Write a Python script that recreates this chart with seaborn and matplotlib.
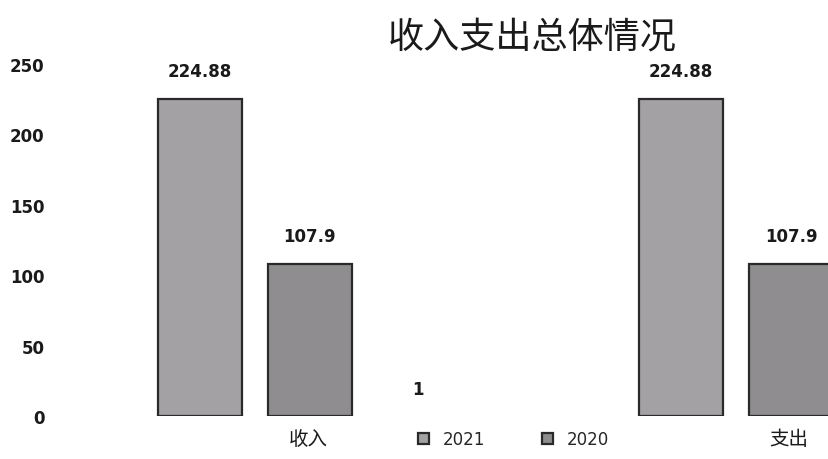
import matplotlib
matplotlib.use("Agg")
import matplotlib.pyplot as plt
import seaborn as sns
import pandas as pd

categories = ["收入", "支出"]
years = ["2021", "2020"]
values_2021 = [224.88, 224.88]
values_2020 = [107.9, 107.9]
title = "收入支出总体情况"
yticks = [0, 50, 100, 150, 200, 250]

rows = []
for i, c in enumerate(categories):
    rows.append({"cat": c, "year": "2021", "val": values_2021[i]})
    rows.append({"cat": c, "year": "2020", "val": values_2020[i]})
df = pd.DataFrame(rows)

sns.set_theme(style="white")
plt.rcParams["font.family"] = ["DejaVu Sans", "Noto Sans CJK SC"]

fig = plt.figure(figsize=(8.29, 4.60), dpi=100)
ax = fig.add_axes([60 / 829, 1 - 417 / 460, 769 / 829, (417 - 65) / 460])

sns.barplot(data=df, x="cat", y="val", hue="year", hue_order=years,
            order=categories, palette=["#a3a1a3", "#8f8d8f"],
            width=0.457, gap=0.23, edgecolor="#2a2a2a", linewidth=1.6,
            ax=ax)

for cont in ax.containers:
    ax.bar_label(cont, fmt="%g", padding=14, fontsize=12, fontweight="bold",
                 color="#1a1a1a")

ax.set_ylim(0, 250)
ax.set_xlim(-0.405, 1.193)
ax.set_yticks(yticks)
ax.set_yticklabels([str(t) for t in yticks], fontsize=12, fontweight="bold",
                   color="#1a1a1a")
ax.set_xticks([i + 0.11 for i in range(len(categories))])
ax.set_xticklabels(categories, fontsize=14, family=["Noto Sans CJK SC"],
                   color="#1a1a1a")
ax.tick_params(axis="y", length=0, pad=11)
ax.tick_params(axis="x", length=0, pad=9)
ax.set_xlabel("")
ax.set_ylabel("")
for s in ax.spines.values():
    s.set_visible(False)

ax.text(0.339, 19, "1", fontsize=12, fontweight="bold", ha="center",
        va="center", color="#1a1a1a")

handles, labels = ax.get_legend_handles_labels()
ax.legend(handles, labels, loc="center", bbox_to_anchor=(0.619, 0.043),
          bbox_transform=fig.transFigure, frameon=False, ncol=2,
          fontsize=12, handlelength=0.7, handleheight=0.7,
          handletextpad=0.8, columnspacing=3.4)

fig.text(532 / 829, 1 - 37 / 460, title, fontsize=26, ha="center",
         va="center", family=["Noto Sans CJK SC"], color="#1a1a1a")

fig.savefig("out.png", dpi=100, facecolor="white")
